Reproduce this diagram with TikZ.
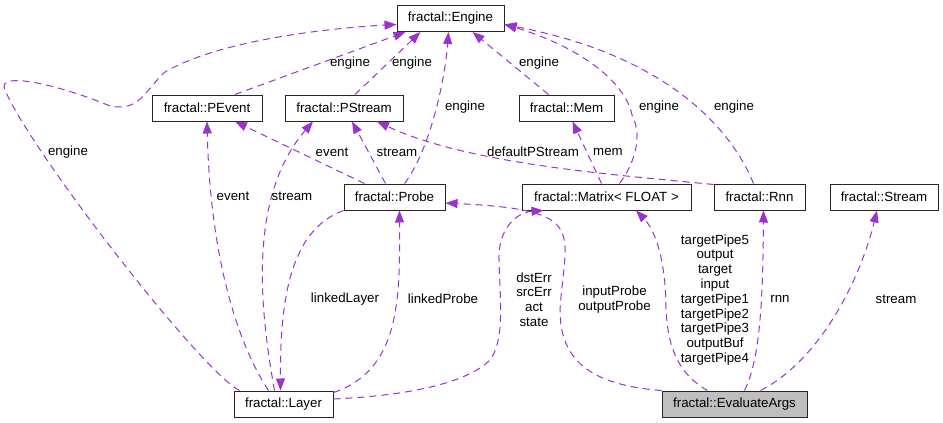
\documentclass[tikz,border=0pt]{standalone}
\usepackage{fontspec}
\setmainfont{Liberation Sans}
\usetikzlibrary{arrows.meta}
\definecolor{edgec}{HTML}{9A32CD}
\definecolor{boxgray}{HTML}{BFBFBF}
\newcommand\dgfont{\fontsize{13.3}{14.8}\selectfont}
\begin{document}
\begin{tikzpicture}[x=1pt,y=-1pt,
  cls/.style={draw=black!85, line width=1pt, fill=white, minimum height=26pt, inner sep=0pt, font=\dgfont},
  lab/.style={font=\dgfont, inner sep=0pt, align=center},
  dep/.style={draw=edgec, line width=1pt, dash pattern=on 7pt off 5pt, -{Triangle[length=12pt,width=9pt,fill=edgec]}}]
\useasboundingbox (0,0) rectangle (943,423);
% classes
\node[cls, minimum width=107pt] (engine) at (450.5,18.5) {fractal::Engine};
\node[cls, minimum width=110pt] (pevent) at (207,108) {fractal::PEvent};
\node[cls, minimum width=118pt] (pstream) at (344,108) {fractal::PStream};
\node[cls, minimum width=95pt] (mem) at (566.5,108) {fractal::Mem};
\node[cls, minimum width=101pt] (probe) at (394.5,197) {fractal::Probe};
\node[cls, minimum width=169pt] (matrix) at (606.5,197) {fractal::Matrix< FLOAT >};
\node[cls, minimum width=91pt] (rnn) at (759.5,197) {fractal::Rnn};
\node[cls, minimum width=108pt] (stream) at (884,197) {fractal::Stream};
\node[cls, minimum width=99pt] (layer) at (283.5,404) {fractal::Layer};
\node[cls, minimum width=145pt, fill=boxgray] (evalargs) at (734.5,404) {fractal::EvaluateArgs};
% edges
\draw[dep] ([xshift=6pt]layer.north west) .. controls (200,370) and (30,150) .. (5,90)
  .. controls (-5,70) and (60,85) .. (110,106) .. controls (140,112) and (145,90) .. (165,72)
  .. controls (220,40) and (330,28) .. ([yshift=-6pt]engine.west);
\draw[dep] ([xshift=28pt]pevent.north) -- ([xshift=-45pt]engine.south);
\draw[dep] ([xshift=11pt]pstream.north) -- ([xshift=-30pt]engine.south);
\draw[dep] ([xshift=10pt]probe.north) .. controls (430,150) and (445,80) .. ([xshift=-2pt]engine.south);
\draw[dep] ([xshift=-18pt]mem.north) -- ([xshift=22pt]engine.south);
\draw[dep] ([xshift=13pt]matrix.north) .. controls (630,170) and (645,140) .. (632,115)
  .. controls (625,80) and (575,45) .. ([yshift=-6pt]engine.east);
\draw[dep] ([xshift=-6pt]rnn.north) .. controls (740,150) and (690,60) .. ([yshift=-6pt]engine.east);
\draw[dep] ([xshift=-30pt]probe.north) -- ([xshift=28pt]pevent.south);
\draw[dep] ([xshift=-9pt]probe.north) -- ([xshift=8pt]pstream.south);
\draw[dep] ([yshift=-1pt]rnn.north west) .. controls (620,175) and (470,165) .. ([xshift=33pt]pstream.south);
\draw[dep] ([xshift=-5pt]matrix.north) -- ([xshift=6pt]mem.south);
\draw[dep] ([xshift=-15pt]layer.north) .. controls (235,340) and (210,250) .. (pevent.south);
\draw[dep] ([xshift=-9pt]layer.north) .. controls (262,320) and (245,200) .. ([xshift=-31pt]pstream.south);
\draw[dep] (probe.south west) .. controls (290,230) and (280,300) .. ([xshift=-3pt]layer.north);
\draw[dep] ([yshift=-2pt]layer.north east) .. controls (400,370) and (400,300) .. ([xshift=5pt]probe.south);
\draw[dep] (evalargs.north west) .. controls (590,385) and (560,360) .. (560,310)
  .. controls (565,230) and (590,210) .. ([yshift=-6pt]probe.east);
\draw[dep] ([yshift=5pt]layer.east) .. controls (420,395) and (470,380) .. (490,360)
  .. controls (505,340) and (500,300) .. (499,260) .. controls (498,225) and (520,212) .. ([xshift=-63pt]matrix.south);
\draw[dep] ([xshift=-27pt]evalargs.north) .. controls (680,375) and (668,350) .. (666,310)
  .. controls (666,260) and (655,230) .. ([xshift=29.5pt]matrix.south);
\draw[dep] ([xshift=10pt]evalargs.north) .. controls (760,360) and (763,300) .. ([xshift=4pt]rnn.south);
\draw[dep] ([xshift=26pt]evalargs.north) .. controls (820,360) and (860,280) .. ([xshift=-7pt]stream.south);
% labels
\node[lab] (l1) at (68,152) {engine};
\node[lab] (l2) at (350,63) {engine};
\node[lab] (l3) at (412,63) {engine};
\node[lab] (l4) at (465,107) {engine};
\node[lab] (l5) at (539,63) {engine};
\node[lab] (l6) at (659,107) {engine};
\node[lab] (l7) at (734,107) {engine};
\node[lab] (l8) at (332,152) {event};
\node[lab] (l9) at (397,152) {stream};
\node[lab] (l10) at (533,152) {defaultPStream};
\node[lab] (l11) at (608,152) {mem};
\node[lab] (l12) at (233,196) {event};
\node[lab] (l13) at (292,196) {stream};
\node[lab] (l14) at (345,299) {linkedLayer};
\node[lab] (l15) at (443,299) {linkedProbe};
\node[lab] (l16) at (614.5,299.5) {inputProbe\\outputProbe};
\node[lab] (l17) at (534,299.5) {dstErr\\srcErr\\act\\state};
\node[lab] (l18) at (715,299.8) {targetPipe5\\output\\target\\input\\targetPipe1\\targetPipe2\\targetPipe3\\outputBuf\\targetPipe4};
\node[lab] (l19) at (780,299) {rnn};
\node[lab] (l20) at (896,299) {stream};
\end{tikzpicture}
\end{document}
